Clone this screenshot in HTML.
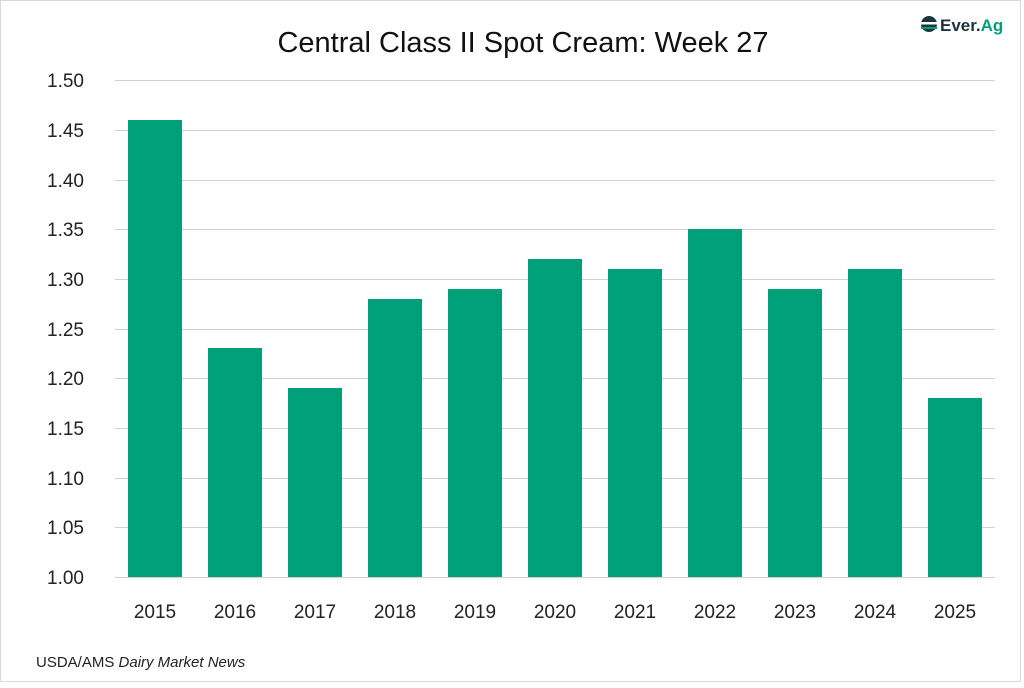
<!DOCTYPE html>
<html><head><style>
html,body{margin:0;padding:0;background:#fff}
body{width:1024px;height:683px;overflow:hidden;font-family:"Liberation Sans",sans-serif}
</style></head><body>
<svg width="1024" height="683" xmlns="http://www.w3.org/2000/svg" font-family="Liberation Sans, sans-serif">
<rect x="0.5" y="0.5" width="1020" height="681" fill="#fff" stroke="#d9d9d9"/>
<text x="523" y="52" font-size="29" text-anchor="middle" fill="#111">Central Class II Spot Cream: Week 27</text>
<g stroke="#d0d0d0" stroke-width="1">
<line x1="115" x2="995" y1="80.5" y2="80.5"/><line x1="115" x2="995" y1="130.5" y2="130.5"/>
<line x1="115" x2="995" y1="180.5" y2="180.5"/><line x1="115" x2="995" y1="229.5" y2="229.5"/>
<line x1="115" x2="995" y1="279.5" y2="279.5"/><line x1="115" x2="995" y1="329.5" y2="329.5"/>
<line x1="115" x2="995" y1="378.5" y2="378.5"/><line x1="115" x2="995" y1="428.5" y2="428.5"/>
<line x1="115" x2="995" y1="478.5" y2="478.5"/><line x1="115" x2="995" y1="527.5" y2="527.5"/>
<line x1="115" x2="995" y1="577.5" y2="577.5"/>
</g>
<g font-size="19" fill="#222" text-anchor="end">
<text x="84" y="87">1.50</text><text x="84" y="137">1.45</text><text x="84" y="187">1.40</text>
<text x="84" y="236">1.35</text><text x="84" y="286">1.30</text><text x="84" y="336">1.25</text>
<text x="84" y="385">1.20</text><text x="84" y="435">1.15</text><text x="84" y="485">1.10</text>
<text x="84" y="534">1.05</text><text x="84" y="584">1.00</text>
</g>
<g fill="#00a07b">
<rect x="128" y="120" width="54" height="457"/>
<rect x="208" y="348" width="54" height="229"/>
<rect x="288" y="388" width="54" height="189"/>
<rect x="368" y="299" width="54" height="278"/>
<rect x="448" y="289" width="54" height="288"/>
<rect x="528" y="259" width="54" height="318"/>
<rect x="608" y="269" width="54" height="308"/>
<rect x="688" y="229" width="54" height="348"/>
<rect x="768" y="289" width="54" height="288"/>
<rect x="848" y="269" width="54" height="308"/>
<rect x="928" y="398" width="54" height="179"/>
</g>
<g font-size="19" fill="#222" text-anchor="middle">
<text x="155" y="618">2015</text><text x="235" y="618">2016</text><text x="315" y="618">2017</text>
<text x="395" y="618">2018</text><text x="475" y="618">2019</text><text x="555" y="618">2020</text>
<text x="635" y="618">2021</text><text x="715" y="618">2022</text><text x="795" y="618">2023</text>
<text x="875" y="618">2024</text><text x="955" y="618">2025</text>
</g>
<text x="36" y="667" font-size="15" fill="#222">USDA/AMS <tspan font-style="italic">Dairy Market News</tspan></text>
<g>
<circle cx="929" cy="24" r="8" fill="#1d3340"/>
<rect x="921" y="22" width="16" height="2.5" fill="#fff"/>
<rect x="921" y="27" width="16" height="2" fill="#00a07b"/>
<text x="940" y="31" font-size="17" font-weight="bold" fill="#1d3340">Ever.<tspan fill="#00a07b">Ag</tspan></text>
</g>
</svg>
</body></html>
